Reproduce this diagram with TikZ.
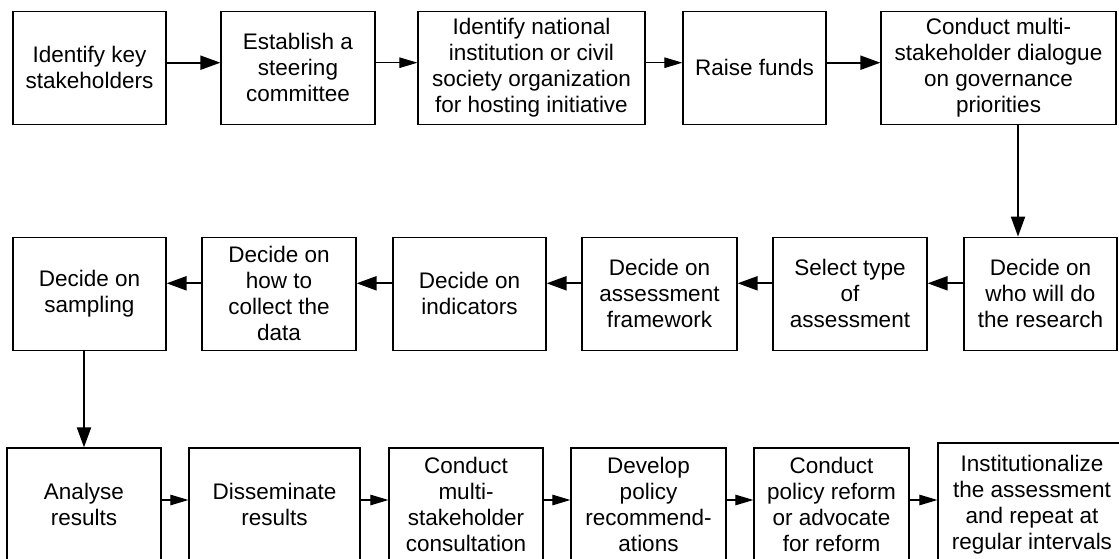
\documentclass[tikz,border=0pt]{standalone}
\usepackage{fontspec}
\setmainfont{Liberation Sans}
\usetikzlibrary{arrows.meta}
\begin{document}
\begin{tikzpicture}[x=1pt,y=-1pt,
  box/.style={draw=black, line width=1.2pt, fill=white, inner sep=0pt, align=center,
    font=\fontsize{22.5}{26}\selectfont, minimum height=113pt},
  thickarr/.style={line width=2pt, -{Triangle[length=20pt,width=14pt]}},
  thinarr/.style={line width=1.1pt, -{Triangle[length=18pt,width=10.5pt]}}]
\clip (0,0) rectangle (1119,559);
\fill[white] (0,0) rectangle (1119,559);

% top row
\node[box, minimum width=153pt] (t1) at (89.5,67.7) {Identify key\\stakeholders};
\node[box, minimum width=154pt] (t2) at (298,67.7) {Establish a\\steering\\committee};
\node[box, minimum width=227pt] (t3) at (531.5,67.7) {Identify national\\institution or civil\\society organization\\for hosting initiative};
\node[box, minimum width=143pt] (t4) at (754.5,67.7) {Raise funds};
\node[box, minimum width=235pt] (t5) at (998.5,67.7) {Conduct multi-\\stakeholder dialogue\\on governance\\priorities};

% middle row
\node[box, minimum width=153pt] (m6) at (1040.5,293.7) {Decide on\\who will do\\the research};
\node[box, minimum width=154pt] (m5) at (850,293.7) {Select type\\of\\assessment};
\node[box, minimum width=155pt] (m4) at (659.5,293.7) {Decide on\\assessment\\framework};
\node[box, minimum width=153pt] (m3) at (469.5,293.7) {Decide on\\indicators};
\node[box, minimum width=154pt] (m2) at (279,293.7) {Decide on\\how to\\collect the\\data};
\node[box, minimum width=153pt] (m1) at (89.5,293.7) {Decide on\\sampling};

% bottom row
\node[box, minimum width=154pt] (b1) at (84,504.5) {Analyse\\results};
\node[box, minimum width=171pt] (b2) at (274.5,504.5) {Disseminate\\results};
\node[box, minimum width=154pt] (b3) at (466,504.5) {Conduct\\multi-\\stakeholder\\consultation};
\node[box, minimum width=155pt] (b4) at (648.5,504.5) {Develop\\policy\\recommend-\\ations};
\node[box, minimum width=155pt] (b5) at (831.5,504.5) {Conduct\\policy reform\\or advocate\\for reform};
\node[box, minimum width=188pt, minimum height=123pt] (b6) at (1032,504.5) {Institutionalize\\the assessment\\and repeat at\\regular intervals};

% connectors, top row
\draw[thickarr] ([yshift=5pt]t1.east) -- ([yshift=5pt]t2.west);
\draw[thinarr]  ([yshift=5pt]t2.east) -- ([yshift=5pt]t3.west);
\draw[thinarr]  ([yshift=5pt]t3.east) -- ([yshift=5pt]t4.west);
\draw[thickarr] ([yshift=5pt]t4.east) -- ([yshift=5pt]t5.west);
\draw[thickarr] ([xshift=19.5pt]t5.south) -- ([xshift=-22.5pt]m6.north);

% connectors, middle row
\draw[thickarr] ([yshift=10.4pt]m6.west) -- ([yshift=10.4pt]m5.east);
\draw[thickarr] ([yshift=10.4pt]m5.west) -- ([yshift=10.4pt]m4.east);
\draw[thickarr] ([yshift=10.4pt]m4.west) -- ([yshift=10.4pt]m3.east);
\draw[thickarr] ([yshift=10.4pt]m3.west) -- ([yshift=10.4pt]m2.east);
\draw[thickarr] ([yshift=10.4pt]m2.west) -- ([yshift=10.4pt]m1.east);
\draw[thickarr] (b1.north |- m1.south) -- (b1.north);

% connectors, bottom row
\draw[thinarr] ([yshift=4.5pt]b1.east) -- ([yshift=4.5pt]b2.west);
\draw[thinarr] ([yshift=4.5pt]b2.east) -- ([yshift=4.5pt]b3.west);
\draw[thinarr] ([yshift=4.5pt]b3.east) -- ([yshift=4.5pt]b4.west);
\draw[thinarr] ([yshift=4.5pt]b4.east) -- ([yshift=4.5pt]b5.west);
\draw[thinarr] ([yshift=4.5pt]b5.east) -- ([yshift=4.5pt]b6.west);
\end{tikzpicture}
\end{document}
